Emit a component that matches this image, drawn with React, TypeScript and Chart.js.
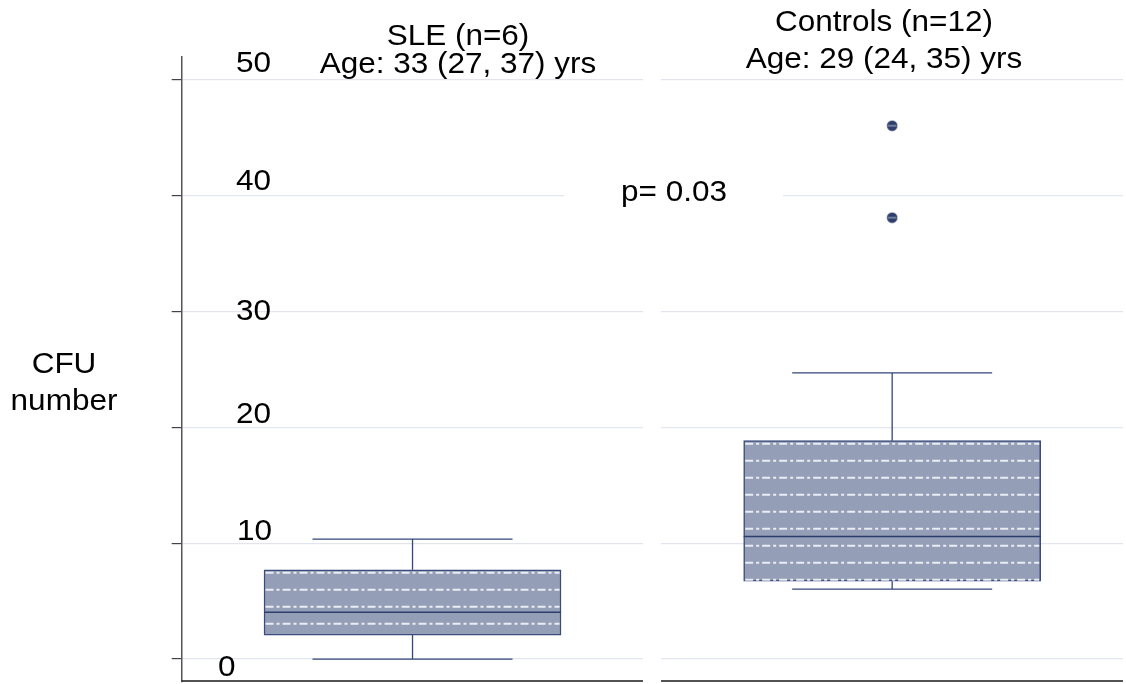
import React, { useEffect, useRef } from 'react';
import { Chart, registerables } from 'chart.js';

Chart.register(...registerables);

// ---------- data ----------
const GROUPS = ['SLE', 'Controls'];
const GROUP_X = [0, 1];
const BOX_MIN = [0, 6.03];
const BOX_Q1 = [2.07, 6.72];
const BOX_MEDIAN = [4.05, 10.57];
const BOX_Q3 = [7.7, 18.84];
const BOX_MAX = [10.34, 24.68];
const OUTLIER_GROUP = [1, 1];
const OUTLIER_VALUES = [46.0, 38.07];
const Y_TICKS = [0, 10, 20, 30, 40, 50];
const Y_TICK_LABELS = ['0', '10', '20', '30', '40', '50'];
const TITLE_LINE1 = ['SLE (n=6)', 'Controls (n=12)'];
const TITLE_LINE2 = ['Age: 33 (27, 37) yrs', 'Age: 29 (24, 35) yrs'];
const P_TEXT = 'p= 0.03';
const Y_TITLE = ['CFU', 'number'];

// ---------- layout / style constants ----------
const FONT = '30px "Liberation Sans", Arial, sans-serif';
const SX = 1.05;
const TEXT_COLOR = '#000000';
const BOX_FILL = '#949eb6';
const BOX_EDGE = '#3a4b7c';
const WHISKER = '#34467a';
const MEDIAN = '#2c3e6e';
const HATCH = 'rgba(238,241,248,0.95)';
const GRID = '#e3e5ee';
const BOX_HALF = 148.5;
const CAP_HALF = 100;
// per-label offsets (px): [left x, dy from the tick's gridline to the baseline]
const TICK_LABEL_POS: Array<[number, number]> = [
  [218, 17], [237, -3], [236, -4], [236, 9], [236, -5], [236, -7],
];
const TITLE_CX = [458, 884];
const TITLE_BASES: Array<[number, number]> = [[45, 73], [31, 68]];
const P_POS: [number, number] = [621, 201];
const P_BOX: [number, number, number, number] = [564, 180, 783, 208];
const GAP: [number, number] = [643, 661];
const Y_TITLE_POS: Array<[number, number]> = [[64, 373], [64, 410]];

function drawText(ctx: CanvasRenderingContext2D, s: string, x: number, y: number, align: CanvasTextAlign) {
  ctx.save();
  ctx.translate(x, y);
  ctx.scale(SX, 1);
  ctx.font = FONT;
  ctx.fillStyle = TEXT_COLOR;
  ctx.textAlign = align;
  ctx.textBaseline = 'alphabetic';
  ctx.fillText(s, 0, 0);
  ctx.restore();
}

function makeDot(): HTMLCanvasElement {
  const c = document.createElement('canvas');
  c.width = 12;
  c.height = 12;
  const g = c.getContext('2d')!;
  g.fillStyle = '#2d3e6b';
  g.beginPath();
  g.arc(6, 6, 5.3, 0, Math.PI * 2);
  g.fill();
  g.strokeStyle = 'rgba(205,214,232,0.85)';
  g.lineWidth = 1;
  g.beginPath();
  g.moveTo(1.5, 6);
  g.lineTo(10.5, 6);
  g.stroke();
  return c;
}

const extrasPlugin = {
  id: 'boxExtras',
  beforeDatasetsDraw(chart: any) {
    const { ctx, chartArea: a } = chart;
    ctx.save();
    // bottom axis line
    ctx.strokeStyle = '#1a1a1a';
    ctx.lineWidth = 1.5;
    ctx.beginPath();
    ctx.moveTo(a.left, a.bottom - 0.75);
    ctx.lineTo(a.right, a.bottom - 0.75);
    ctx.stroke();
    ctx.fillStyle = '#ffffff';
    ctx.fillRect(GAP[0], a.top - 2, GAP[1] - GAP[0], a.bottom - a.top + 6);
    ctx.fillRect(P_BOX[0], P_BOX[1], P_BOX[2] - P_BOX[0], P_BOX[3] - P_BOX[1]);
    ctx.restore();
  },
  afterDatasetsDraw(chart: any) {
    const { ctx, scales } = chart;
    const x = scales.x;
    const y = scales.y;
    ctx.save();
    GROUPS.forEach((_, i) => {
      const cx = x.getPixelForValue(GROUP_X[i]);
      const yq1 = y.getPixelForValue(BOX_Q1[i]);
      const yq3 = y.getPixelForValue(BOX_Q3[i]);
      const ymed = y.getPixelForValue(BOX_MEDIAN[i]);
      const ymin = y.getPixelForValue(BOX_MIN[i]);
      const ymax = y.getPixelForValue(BOX_MAX[i]);
      // hatch lines
      ctx.save();
      ctx.strokeStyle = HATCH;
      ctx.lineWidth = 2;
      ctx.setLineDash([8, 3, 3, 3]);
      for (let yy = yq3 + 3; yy < yq1 - 0.5; yy += 17) {
        ctx.beginPath();
        ctx.moveTo(cx - BOX_HALF + 1.5, yy);
        ctx.lineTo(cx + BOX_HALF - 1.5, yy);
        ctx.stroke();
      }
      ctx.restore();
      // median
      ctx.strokeStyle = MEDIAN;
      ctx.lineWidth = 1.5;
      ctx.beginPath();
      ctx.moveTo(cx - BOX_HALF, ymed);
      ctx.lineTo(cx + BOX_HALF, ymed);
      ctx.stroke();
      // whiskers
      ctx.strokeStyle = WHISKER;
      ctx.lineWidth = 1.3;
      ctx.beginPath();
      ctx.moveTo(cx, yq3);
      ctx.lineTo(cx, ymax);
      ctx.moveTo(cx - CAP_HALF, ymax);
      ctx.lineTo(cx + CAP_HALF, ymax);
      ctx.moveTo(cx, yq1);
      ctx.lineTo(cx, ymin);
      ctx.moveTo(cx - CAP_HALF, ymin);
      ctx.lineTo(cx + CAP_HALF, ymin);
      ctx.stroke();
    });
    ctx.restore();
  },
  afterDraw(chart: any) {
    const { ctx, scales } = chart;
    const y = scales.y;
    Y_TICKS.forEach((v, i) => {
      const py = y.getPixelForValue(v);
      const [lx, dy] = TICK_LABEL_POS[i];
      drawText(ctx, Y_TICK_LABELS[i], lx, py + dy, 'left');
    });
    GROUPS.forEach((_, i) => {
      drawText(ctx, TITLE_LINE1[i], TITLE_CX[i], TITLE_BASES[i][0], 'center');
      drawText(ctx, TITLE_LINE2[i], TITLE_CX[i], TITLE_BASES[i][1], 'center');
    });
    drawText(ctx, P_TEXT, P_POS[0], P_POS[1], 'left');
    Y_TITLE.forEach((s, i) => drawText(ctx, s, Y_TITLE_POS[i][0], Y_TITLE_POS[i][1], 'center'));
  },
};

export default function App() {
  const ref = useRef<HTMLCanvasElement>(null);
  useEffect(() => {
    if (!ref.current) return;
    Chart.defaults.font.family = '"Liberation Sans", Arial, sans-serif';
    const dot = makeDot();
    const chart = new Chart(ref.current, {
      type: 'bar',
      data: {
        datasets: [
          {
            type: 'bar',
            label: 'Box',
            data: GROUPS.map((_, i) => ({ x: GROUP_X[i], y: [BOX_Q1[i], BOX_Q3[i]] })) as any,
            backgroundColor: BOX_FILL,
            borderColor: BOX_EDGE,
            borderWidth: 1.5,
            borderSkipped: false,
            barThickness: 297,
          } as any,
          {
            type: 'scatter',
            label: 'Outliers',
            data: OUTLIER_VALUES.map((v, i) => ({ x: GROUP_X[OUTLIER_GROUP[i]], y: v })),
            pointStyle: dot as any,
            pointRadius: 5,
            showLine: false,
          } as any,
        ],
      },
      options: {
        animation: false,
        responsive: false,
        events: [],
        layout: { autoPadding: false, padding: { left: 171.7, right: 3, top: 56.7, bottom: 2.3 } },
        plugins: { legend: { display: false }, tooltip: { enabled: false } },
        scales: {
          x: {
            type: 'linear',
            display: false,
            offset: false,
            min: -0.48125,
            max: 1.48125,
          },
          y: {
            type: 'linear',
            min: -1.95,
            max: 51.95,
            afterBuildTicks: (s: any) => {
              s.ticks = Y_TICKS.map((v) => ({ value: v }));
            },
            ticks: { display: false },
            grid: { color: GRID, lineWidth: 1.2, tickColor: '#444444', tickLength: 10, drawTicks: true },
            border: { display: true, color: '#555555', width: 1.5 },
          },
        },
      } as any,
      plugins: [extrasPlugin],
    });
    return () => chart.destroy();
  }, []);
  return (
    <div style={{ position: 'fixed', left: 0, top: 0, width: 1126, height: 684, background: '#fff' }}>
      <canvas ref={ref} width={1126} height={684} style={{ display: 'block' }} />
    </div>
  );
}
